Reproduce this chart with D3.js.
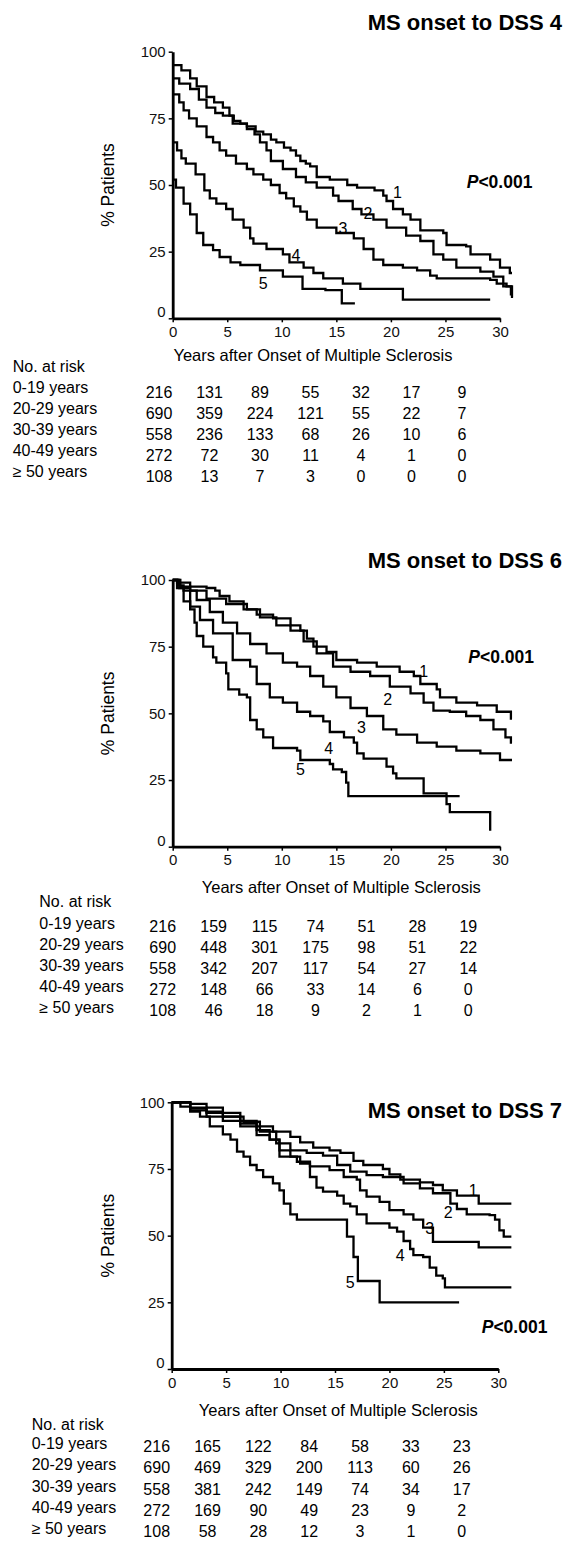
<!DOCTYPE html>
<html>
<head>
<meta charset="utf-8">
<script src="https://cdn.jsdelivr.net/npm/d3@7"></script>
<style>
  body { margin: 0; background: #fff; }
  svg { display: block; font-family: "Liberation Sans", Arial, sans-serif; }
</style>
</head>
<body>
<div id="root"></div>
<script>
const yTicks = [0, 25, 50, 75, 100];
const xTicks = [0, 5, 10, 15, 20, 25, 30];
const riskTimes = [0, 5, 10, 15, 20, 25, 30];
const ageGroups = ['0-19 years', '20-29 years', '30-39 years', '40-49 years', '\u2265 50 years'];
const curveNames = ['1', '2', '3', '4', '5'];
const panelTitles = ['MS onset to DSS 4', 'MS onset to DSS 6', 'MS onset to DSS 7'];

// [years, % without event] step points
const dss4Group1 = [[0,95],[0.8,93],[1.6,90],[2.2,87],[3.1,83],[3.8,81],[4.6,79],[5.2,76],[5.6,74],[6.2,73],[6.8,72],[7.6,70],[8.3,69],[9.0,67],[9.5,66],[10.2,64],[10.8,63],[11.3,61],[11.7,59],[12.2,58],[12.6,57],[13.2,53],[14.4,52],[16.0,50],[16.9,49],[18.5,48],[19.3,46],[19.6,44],[20.2,41],[21.1,39],[21.8,37],[22.7,33],[24.8,32],[25.1,27.5],[26.9,27],[27.3,24],[29.1,22],[30.0,19],[30.9,17],[31.1,17]];
const dss4Group2 = [[0,90],[0.6,88],[1.6,86],[2.4,82],[3.1,79],[3.9,77],[4.6,76],[5.5,73],[6.8,71],[7.5,69],[8.0,66],[8.6,63],[9.0,59],[10.1,56],[11.3,53],[12.2,51],[13.2,49],[14.7,46],[15.2,44],[16.5,41],[17.3,39],[18.4,37],[19.6,34],[21.4,31],[22.7,29],[23.9,24],[24.8,22],[26.0,19],[28.2,17.5],[29.4,15.6],[30.3,12],[31.0,9],[31.1,9]];
const dss4Group3 = [[0,84],[0.6,81],[1.0,78],[1.5,75],[2.2,72],[3.1,68],[3.7,66],[4.3,63],[4.9,61],[5.8,58],[6.8,56],[7.4,54],[8.3,52],[9.0,50],[9.8,47],[10.4,45],[11.1,42],[11.7,40],[12.3,37],[13.2,34],[15.0,32],[16.6,30],[17.5,26],[18.4,22],[19.3,20],[21.1,19],[22.4,18],[23.6,16],[24.2,15],[29.1,14.4],[29.7,13],[30.6,12],[31.1,8],[31.2,8]];
const dss4Group4 = [[0,66],[0.4,63],[0.8,60],[1.2,58],[2.1,54],[2.9,48],[3.4,45],[4.0,43],[4.9,41],[5.5,37],[6.5,34],[7.1,30],[7.4,28],[8.6,26],[10.1,24],[10.7,21],[12.0,19],[12.9,17],[13.8,15],[15.6,13],[17.2,11],[21.1,7],[29.1,7]];
const dss4Group5 = [[0,52],[0.3,49],[1.0,43],[1.6,39],[2.2,32],[2.8,27.5],[3.7,25.6],[4.3,23],[5.3,21],[6.2,20],[8.0,18],[10.1,15.6],[11.9,11],[14.0,10.6],[15.5,5.6],[16.7,5.6]];

const dss6Group1 = [[0,100],[0.4,99],[1.6,97.5],[3.1,97],[3.9,96],[4.3,94],[5.2,92],[6.5,89],[7.7,87],[9.2,85.6],[10.8,83],[11.7,81],[12.3,78],[12.9,75],[14.1,73],[15.0,70],[16.9,69],[18.7,67.5],[20.8,65.6],[22.1,64],[22.7,61],[24.2,59],[24.5,56],[26.0,54],[27.9,53],[29.7,50.6],[31.0,48],[31.1,48]];
const dss6Group2 = [[0,100],[0.7,97.5],[1.6,96],[3.1,93],[4.9,91],[6.8,89],[8.0,86],[9.5,83],[10.8,81],[12.0,77],[13.2,72.5],[14.7,67.5],[16.3,65.6],[18.1,64],[19.9,60],[21.8,57.5],[23.0,54],[23.9,51],[25.4,50.6],[26.9,49],[28.2,47.5],[29.4,44],[30.5,41],[31.0,39],[31.1,39]];
const dss6Group3 = [[0,100],[0.5,98],[1.0,96],[2.2,92.5],[3.4,88],[4.6,84],[5.9,80],[7.1,76],[8.6,72.5],[10.1,69],[11.4,67.5],[12.6,64],[13.8,60],[15.0,56],[16.3,52],[17.8,49],[19.3,44],[20.5,42],[22.4,39],[24.2,37.5],[26.0,36],[28.2,35],[30.0,32.5],[31.1,32.5]];
const dss6Group4 = [[0,100],[0.6,97],[1.6,90],[2.5,85],[3.7,80],[5.5,70],[7.1,67.5],[7.7,61],[8.9,56],[10.1,54],[11.4,50.6],[12.6,49],[13.8,47],[14.4,43],[15.7,41],[16.6,39],[16.9,35],[17.5,33],[19.6,30],[20.2,27.5],[20.5,25.6],[23.0,20],[25.1,16],[25.4,13],[29.1,6],[29.1,6]];
const dss6Group5 = [[0,100],[0.4,97],[1.0,92],[1.6,89],[2.0,84],[2.2,79],[2.8,75],[3.7,71],[4.0,69],[4.9,65],[5.1,59],[6.1,57],[6.8,56],[7.1,47.5],[7.7,44],[8.3,41],[9.2,37],[11.4,36],[11.7,32.5],[14.4,31],[14.7,29],[15.5,28],[15.9,24],[16.1,19],[26.3,19]];

const dss7Group1 = [[0,100],[1.7,99.4],[3.2,98],[4.7,96],[6.3,93],[7.8,91],[9.3,89],[10.9,87],[11.8,85],[13.0,83],[14.5,82],[15.5,81],[16.7,78],[17.6,76.5],[19.4,75],[20.0,73],[21.0,71],[22.8,70],[24.0,69],[24.9,67],[26.2,65],[28.2,62],[31.2,62]];
const dss7Group2 = [[0,100],[1.7,98],[3.2,96.5],[4.7,94.6],[6.6,92.7],[8.1,89],[9.6,84.6],[10.9,82],[12.4,81],[13.9,80],[15.2,76.5],[16.4,74],[17.9,72.7],[19.4,72],[21.3,69.6],[22.8,67.7],[24.0,65.9],[25.6,62],[26.2,60],[27.1,58],[29.2,57.7],[29.7,56],[30.1,52],[30.5,49.6],[31.2,49.6]];
const dss7Group3 = [[0,100],[1.7,97.7],[3.2,96],[4.7,94.6],[6.3,92],[7.8,89.6],[9.0,86],[9.9,79.6],[11.5,77.7],[12.7,76],[14.5,74.6],[15.8,72],[17.0,71],[17.3,67],[17.9,64.6],[19.1,62.7],[20.0,59.6],[21.3,58],[22.2,56],[23.1,53],[24.0,47.7],[28.2,45.6],[31.2,45.6]];
const dss7Group4 = [[0,100],[1.7,97],[3.2,94.6],[4.7,93],[6.3,91],[7.8,87.7],[9.0,86],[9.9,82],[10.9,79.6],[11.8,77],[12.7,72],[13.3,68],[13.9,66.5],[15.2,65],[15.8,62],[16.4,61],[17.0,58],[17.9,54.6],[20.0,53],[20.7,51.5],[21.3,48],[21.9,45],[22.2,42.7],[23.1,42],[23.7,38],[24.3,35],[24.9,34],[25.1,30.6],[31.2,30.6]];
const dss7Group5 = [[0,100],[0.8,98.4],[1.7,96.5],[2.6,94.6],[3.5,91],[4.7,88],[5.4,86],[6.0,81.5],[6.6,79.6],[7.2,76.5],[7.8,74.6],[8.4,72],[9.3,69.6],[9.9,67],[10.3,62],[10.9,58],[11.5,56],[16.1,49.6],[16.7,42],[17.1,33],[19.1,25],[26.4,25]];

// number at risk: one row per age group, one column per riskTimes entry
const dss4Risk = [[216,131,89,55,32,17,9],[690,359,224,121,55,22,7],[558,236,133,68,26,10,6],[272,72,30,11,4,1,0],[108,13,7,3,0,0,0]];
const dss6Risk = [[216,159,115,74,51,28,19],[690,448,301,175,98,51,22],[558,342,207,117,54,27,14],[272,148,66,33,14,6,0],[108,46,18,9,2,1,0]];
const dss7Risk = [[216,165,122,84,58,33,23],[690,469,329,200,113,60,26],[558,381,242,149,74,34,17],[272,169,90,49,23,9,2],[108,58,28,12,3,1,0]];

// where the curve numbers sit, in [years, %]
const dss4LabelAt = [[20.6,47.1],[17.9,39.4],[15.6,33.7],[11.3,23.7],[8.3,13.1]];
const dss6LabelAt = [[23.0,65.6],[19.7,55.4],[17.3,44.8],[14.3,36.9],[11.7,28.8]];
const dss7LabelAt = [[27.7,67.1],[25.4,58.6],[23.7,52.9],[21.0,42.7],[16.4,32.6]];

const panels = [
  { title: panelTitles[0], curves: [dss4Group1, dss4Group2, dss4Group3, dss4Group4, dss4Group5], risk: dss4Risk, labelAt: dss4LabelAt,
    left: 172.7, right: 500, top: 51.7, bottom: 318.3, titleY: 29.5, pX: 466.7, pY: 188.3,
    xTitleX: 313, xTitleY: 361, tableX: 12.7, headY: 366, rowY: 387.7, rowStep: 20.8, cols: [159, 462], numDy: 5 },
  { title: panelTitles[1], curves: [dss6Group1, dss6Group2, dss6Group3, dss6Group4, dss6Group5], risk: dss6Risk, labelAt: dss6LabelAt,
    left: 172.7, right: 500, top: 580, bottom: 846.7, titleY: 568, pX: 468.3, pY: 663,
    xTitleX: 341.3, xTitleY: 892.7, tableX: 39.3, headY: 901.7, rowY: 923.3, rowStep: 21, cols: [162.7, 468.3], numDy: 3 },
  { title: panelTitles[2], curves: [dss7Group1, dss7Group2, dss7Group3, dss7Group4, dss7Group5], risk: dss7Risk, labelAt: dss7LabelAt,
    left: 171.7, right: 498.3, top: 1102.3, bottom: 1369, titleY: 1118, pX: 481.7, pY: 1333,
    xTitleX: 338.3, xTitleY: 1416, tableX: 31.7, headY: 1424, rowY: 1443.5, rowStep: 21.2, cols: [156.7, 461.7], numDy: 3 }
];

const svg = d3.select('#root').append('svg')
  .attr('width', 566)
  .attr('height', 1543);

svg.append('rect').attr('width', 566).attr('height', 1543).attr('fill', '#fff');

panels.forEach(drawPanel);

function drawPanel(p) {
  const g = svg.append('g');

  const x = d3.scaleLinear().domain([0, 30]).range([p.left, p.right]);
  const y = d3.scaleLinear().domain([0, 100]).range([p.bottom, p.top]);

  const line = d3.line()
    .x((d) => x(d[0]))
    .y((d) => y(d[1]))
    .curve(d3.curveStepAfter);

  g.selectAll('.km')
    .data(p.curves)
    .enter()
    .append('path')
      .attr('class', 'km')
      .attr('d', line)
      .attr('fill', 'none')
      .attr('stroke', '#000')
      .attr('stroke-width', 2.3);

  // axes
  const yAxis = g.append('g')
    .attr('transform', 'translate(' + p.left + ',0)')
    .call(d3.axisLeft(y).tickValues(yTicks).tickSize(4).tickSizeOuter(0).tickPadding(3));
  const xAxis = g.append('g')
    .attr('transform', 'translate(0,' + p.bottom + ')')
    .call(d3.axisBottom(x).tickValues(xTicks).tickSize(4).tickSizeOuter(0).tickPadding(4));

  [yAxis, xAxis].forEach((a) => {
    a.select('.domain').attr('stroke-width', 2.8);
    a.selectAll('.tick line').attr('stroke-width', 1.5);
    a.selectAll('.tick text')
      .attr('font-size', 15)
      .attr('font-family', '"Liberation Sans", Arial, sans-serif')
      .attr('fill', '#111');
  });
  yAxis.selectAll('.tick text').filter((d) => d === 0).attr('dy', '-0.1em');

  // curve numbers
  g.selectAll('.num')
    .data(p.labelAt)
    .enter()
    .append('text')
      .attr('x', (d) => x(d[0]))
      .attr('y', (d) => y(d[1]))
      .attr('dy', '0.35em')
      .attr('text-anchor', 'middle')
      .attr('font-size', 16)
      .text((d, i) => curveNames[i]);

  g.append('text')
    .attr('x', 562)
    .attr('y', p.titleY)
    .attr('text-anchor', 'end')
    .attr('font-size', 22)
    .attr('font-weight', 'bold')
    .text(p.title);

  const pv = g.append('text')
    .attr('x', p.pX)
    .attr('y', p.pY)
    .attr('font-size', 17.5)
    .attr('font-weight', 'bold');
  pv.append('tspan').attr('font-style', 'italic').text('P');
  pv.append('tspan').text('<0.001');

  g.append('text')
    .attr('transform', 'translate(108,' + (p.top + p.bottom) / 2 + ') rotate(-90)')
    .attr('dy', '0.35em')
    .attr('text-anchor', 'middle')
    .attr('font-size', 17.5)
    .text('% Patients');

  g.append('text')
    .attr('x', p.xTitleX)
    .attr('y', p.xTitleY)
    .attr('text-anchor', 'middle')
    .attr('font-size', 16.5)
    .text('Years after Onset of Multiple Sclerosis');

  // number at risk table
  g.append('text')
    .attr('x', p.tableX)
    .attr('y', p.headY)
    .attr('dy', '0.35em')
    .attr('font-size', 16)
    .text('No. at risk');

  const col = d3.scalePoint().domain(riskTimes).range(p.cols);

  const rows = g.selectAll('.row')
    .data(p.risk)
    .enter()
    .append('g')
      .attr('class', 'row')
      .attr('transform', (d, i) => 'translate(0,' + (p.rowY + i * p.rowStep) + ')');

  rows.append('text')
    .attr('x', p.tableX)
    .attr('dy', '0.35em')
    .attr('font-size', 16)
    .text((d, i) => ageGroups[i]);

  rows.selectAll('.n')
    .data((d) => d)
    .enter()
    .append('text')
      .attr('class', 'n')
      .attr('x', (d, i) => col(riskTimes[i]))
      .attr('y', p.numDy)
      .attr('dy', '0.35em')
      .attr('text-anchor', 'middle')
      .attr('font-size', 16)
      .text((d) => d);
}
</script>
</body>
</html>
